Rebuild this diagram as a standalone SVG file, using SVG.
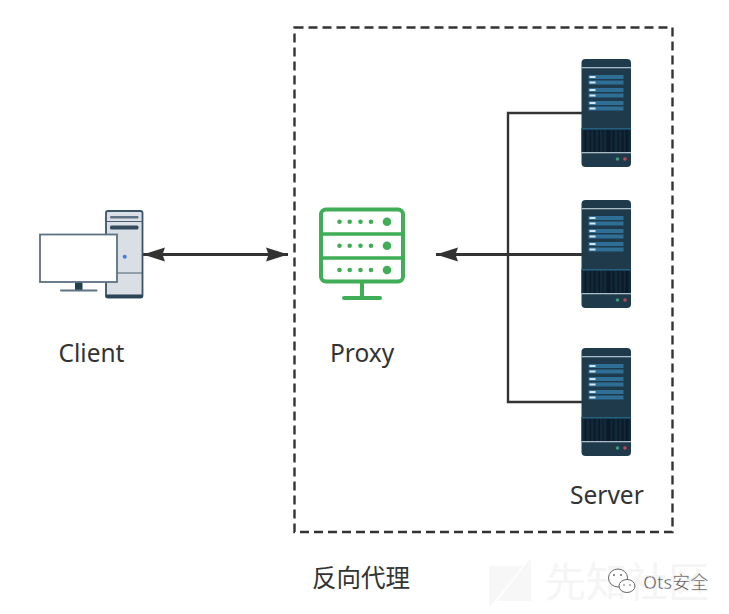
<svg xmlns="http://www.w3.org/2000/svg" width="729" height="614" viewBox="0 0 729 614">
<style>
text{font-family:"Noto Sans","Noto Sans CJK SC",sans-serif;fill:#333;font-size:24.500px}
.line{fill:none;stroke:#333;stroke-width:2.400}
.arrow{fill:none;stroke:#333;stroke-width:3}
.g{fill:#3fae56}
.gl{fill:none;stroke:#3fae56;stroke-width:4;stroke-linecap:round}
.bar{fill:#2f6f96}
.tick{fill:#d5e6ee}
.stripe{fill:#0a1a28}
</style>
<defs>
<marker id="ah" markerUnits="userSpaceOnUse" markerWidth="24" markerHeight="18" refX="22" refY="9" orient="auto-start-reverse">
<path d="M22 9L0 2L2.500 9L0 16Z" fill="#333"/>
</marker>
<g id="srv">
<rect x="0" y="0" width="49.500" height="108" rx="4" fill="#1f3a4b"/>
<rect x="0" y="8" width="49.500" height="1.300" fill="#a9bcc6"/>
<rect x="7" y="16" width="35" height="4" class="bar"/>
<rect x="7" y="21.500" width="35" height="4" class="bar"/>
<rect x="7" y="29" width="35" height="4" class="bar"/>
<rect x="7" y="34.500" width="35" height="4" class="bar"/>
<rect x="7" y="42" width="35" height="4" class="bar"/>
<rect x="7" y="47.500" width="35" height="4" class="bar"/>
<rect x="8" y="17" width="6" height="2" class="tick"/>
<rect x="8" y="22.500" width="6" height="2" class="tick"/>
<rect x="8" y="30" width="6" height="2" class="tick"/>
<rect x="8" y="35.500" width="6" height="2" class="tick"/>
<rect x="8" y="43" width="6" height="2" class="tick"/>
<rect x="8" y="48.500" width="6" height="2" class="tick"/>
<rect x="0" y="69" width="49.500" height="24" fill="#12293a"/>
<rect x="0" y="69" width="49.500" height="1.500" fill="#25607f"/>
<path class="stripe" d="M3 71h2v22h-2zM8 71h1.500v22h-1.500zM12 71h2v22h-2zM17 71h1.500v22h-1.500zM21 71h1v22h-1zM25 71h4v22h-4zM31 71h2v22h-2zM36 71h1.500v22h-1.500zM40 71h2v22h-2zM44 71h3v22h-3z"/>
<rect x="0" y="93" width="49.500" height="1.300" fill="#a9bcc6"/>
<circle cx="36" cy="100" r="1.800" fill="#3f9a77"/>
<circle cx="43.500" cy="100" r="1.800" fill="#b8485c"/>
</g>
</defs>
<rect width="729" height="614" fill="#fff"/>
<g id="watermark">
<path d="M489 566H523L489 608ZM531 558V601H497Z" fill="#f7f7f7"/>
<text x="545" y="597" style="font-size:41px;fill:#f5f5f5">先知社区</text>
<g fill="#fff" stroke="#666" stroke-width="1">
<ellipse cx="618" cy="578" rx="9.500" ry="9"/>
<ellipse cx="627" cy="586" rx="8" ry="6.500"/>
</g>
<g fill="#666"><circle cx="614" cy="575" r="1"/><circle cx="621" cy="575" r="1"/><circle cx="624" cy="585" r="0.800"/><circle cx="630" cy="585" r="0.800"/></g>
<text x="643" y="588.500" style="font-size:18px;fill:#555;stroke:#fff;stroke-width:0.4">Ots安全</text>
</g>
<g id="boundary">
<rect x="294.500" y="27.500" width="378" height="504.500" fill="none" stroke="#333" stroke-width="2.400" stroke-dasharray="9 5"/>
<text x="312" y="587">反向代理</text>
</g>
<g id="connectors">
<path class="arrow" d="M143 254.500H288" marker-start="url(#ah)" marker-end="url(#ah)"/>
<path class="line" d="M582 113H508V402H582"/>
<path class="arrow" d="M582 254.500H436" marker-end="url(#ah)"/>
</g>
<g id="client">
<rect x="106" y="211" width="36.500" height="86.500" rx="2" fill="#d9dfe4" stroke="#3c5468" stroke-width="1.800"/>
<rect x="105.500" y="294.500" width="37.500" height="3.500" rx="1.500" fill="#2d4558"/>
<path d="M106 221.500H142.500M106 273H142.500" stroke="#4a6072" stroke-width="1"/>
<rect x="110" y="216" width="28.500" height="2.500" rx="1" fill="#5d7284"/>
<rect x="110" y="225.500" width="28.500" height="4" rx="1.500" fill="#33495c"/>
<circle cx="124.700" cy="256.700" r="2" fill="#3b7de0"/>
<rect x="75" y="282" width="7.500" height="8" fill="#24404f"/>
<rect x="60" y="289.500" width="37.500" height="2" rx="1" fill="#5d7284"/>
<rect x="40" y="234.500" width="77" height="47.500" fill="#fff" stroke="#5d7284" stroke-width="1.800"/>
<text x="58.500" y="362">Client</text>
</g>
<g id="proxy">
<rect x="321" y="209.500" width="82" height="72" rx="5" fill="#fff" stroke="#3fae56" stroke-width="4"/>
<path d="M321 234H403M321 258H403" stroke="#3fae56" stroke-width="3.500"/>
<path class="gl" d="M362 283V298M344 298H380"/>
<g class="g">
<circle cx="339.500" cy="221.700" r="2.300"/><circle cx="349.700" cy="221.700" r="2.300"/><circle cx="360.500" cy="221.700" r="2.300"/><circle cx="371" cy="221.700" r="2.300"/><circle cx="387" cy="221.700" r="4.300"/>
<circle cx="339.500" cy="245.700" r="2.300"/><circle cx="349.700" cy="245.700" r="2.300"/><circle cx="360.500" cy="245.700" r="2.300"/><circle cx="371" cy="245.700" r="2.300"/><circle cx="387" cy="245.700" r="4.300"/>
<circle cx="339.500" cy="270" r="2.300"/><circle cx="349.700" cy="270" r="2.300"/><circle cx="360.500" cy="270" r="2.300"/><circle cx="371" cy="270" r="2.300"/><circle cx="387" cy="270" r="4.300"/>
</g>
<text x="330" y="362">Proxy</text>
</g>
<g id="server-1"><use href="#srv" x="581.500" y="59"/></g>
<g id="server-2"><use href="#srv" x="581.500" y="200"/></g>
<g id="server-3"><use href="#srv" x="581.500" y="348"/><text x="570" y="504">Server</text></g>
</svg>
